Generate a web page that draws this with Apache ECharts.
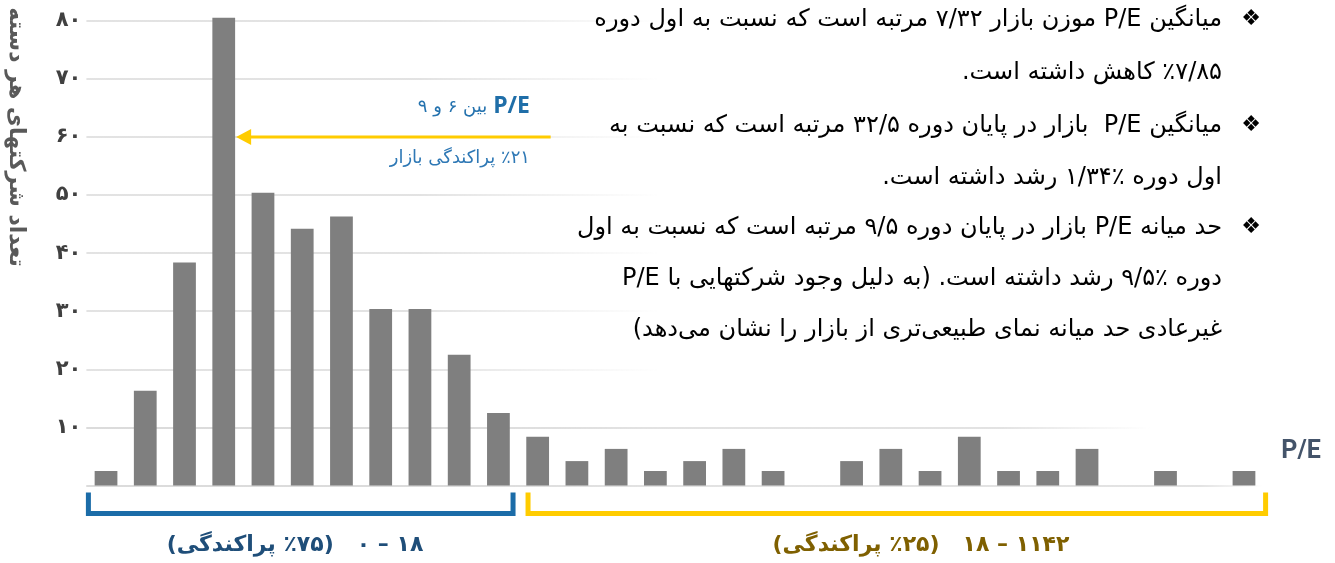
<!DOCTYPE html>
<html lang="fa">
<head>
<meta charset="utf-8">
<script src="https://cdn.jsdelivr.net/npm/echarts@6/dist/echarts.min.js"></script>
<style>
html,body{margin:0;padding:0;background:#ffffff;}
#chart{width:1335px;height:563px;direction:rtl;}
</style>
</head>
<body>
<div id="chart" dir="rtl"></div>
<script>
// ---- data ----
const categories = ['b01','b02','b03','b04','b05','b06','b07','b08','b09','b10',
                    'b11','b12','b13','b14','b15','b16','b17','b18','b19','b20',
                    'b21','b22','b23','b24','b25','b26','b27','b28','b29','b30'];
const companyCounts = [2.5, 16.3, 38.4, 80.5, 50.4, 44.2, 46.3, 30.4, 30.4, 22.5,
                       12.5, 8.4, 4.2, 6.3, 2.5, 4.2, 6.3, 2.5, 0, 4.2,
                       6.3, 2.5, 8.4, 2.5, 2.5, 6.3, 0, 2.5, 0, 2.5];
const yTickValues = [10, 20, 30, 40, 50, 60, 70, 80];
const yTickLabels = ['۱۰','۲۰','۳۰','۴۰','۵۰','۶۰','۷۰','۸۰'];
const yAxisTitle = 'تعداد شرکتهای هر دسته';
const xAxisTitle = 'P/E';
const noteTop = 'بین ۶ و ۹';
const noteTopBold = 'P/E';
const noteBottom = '٪۲۱ پراکندگی بازار';
const groupLowLabel = '۱۸ – ۰   (٪۷۵ پراکندگی)';
const groupHighLabel = '۱۱۴۲ – ۱۸   (٪۲۵ پراکندگی)';
const textLines = [
  'میانگین P/E موزن بازار ۷/۳۲ مرتبه است که نسبت به اول دوره',
  '٪۷/۸۵ کاهش داشته است.',
  'میانگین P/E  بازار در پایان دوره ۳۲/۵ مرتبه است که نسبت به',
  'اول دوره ٪۱/۳۴ رشد داشته است.',
  'حد میانه P/E بازار در پایان دوره ۹/۵ مرتبه است که نسبت به اول',
  'دوره ٪۹/۵ رشد داشته است. (به دلیل وجود شرکتهایی با P/E',
  'غیرعادی حد میانه نمای طبیعی‌تری از بازار را نشان می‌دهد)'
];
const bulletLineIndex = [0, 2, 4];

// ---- chart ----
const chart = echarts.init(document.getElementById('chart'), null, {renderer: 'canvas'});
const grey = '217,217,217';
function clamp(v) { return Math.max(0, Math.min(1, v)); }
function fade(xSolid, xEnd) {
  return {
    type: 'linear', global: true, x: 86, y: 0, x2: 1264, y2: 0,
    colorStops: [
      {offset: 0, color: 'rgba(' + grey + ',1)'},
      {offset: clamp((xSolid - 86) / 1178), color: 'rgba(' + grey + ',1)'},
      {offset: clamp((xEnd - 86) / 1178), color: 'rgba(' + grey + ',0)'},
      {offset: 1, color: 'rgba(' + grey + ',0)'}
    ]
  };
}
const barGap = 0.42;
const option = {
  animation: false,
  grid: {left: 86.4, right: 71.4, top: 20.7, bottom: 77.5},
  xAxis: {
    type: 'category', data: categories,
    axisLine: {show: false}, axisTick: {show: false}, axisLabel: {show: false}, splitLine: {show: false}
  },
  yAxis: {
    type: 'value', min: 0, max: 80, interval: 10,
    axisLine: {show: false}, axisTick: {show: false},
    axisLabel: {
      margin: 5, color: '#404040', fontFamily: 'DejaVu Sans', fontWeight: 'bold', fontSize: 21,
      formatter: function (v) { const i = yTickValues.indexOf(v); return i >= 0 ? yTickLabels[i] : ''; }
    },
    splitLine: {show: true, lineStyle: {width: 1.5, color: fade(420, 660)}}
  },
  series: [{
    type: 'bar', data: companyCounts, barCategoryGap: (barGap * 100) + '%', clip: false,
    itemStyle: {color: '#7f7f7f'},
    markLine: {
      silent: true, symbol: ['none', 'none'], z: 1, label: {show: false},
      lineStyle: {type: 'solid', width: 1.5},
      data: [
        {yAxis: 10, lineStyle: {type: 'solid', width: 1.5, color: fade(1000, 1150)}},
        {yAxis: 0, lineStyle: {type: 'solid', width: 1.5, color: fade(1200, 1264)}}
      ]
    }
  }]
};
chart.setOption(option);

// ---- annotations positioned from the chart's own scales ----
const p0 = chart.convertToPixel({gridIndex: 0}, [0, 0]);
const p29 = chart.convertToPixel({gridIndex: 0}, [29, 0]);
const catW = (p29[0] - p0[0]) / 29;
const barW = catW * (1 - barGap);
const peak = chart.convertToPixel({gridIndex: 0}, [3, 60]);
const arrowEnd = chart.convertToPixel({gridIndex: 0}, [11, 60]);
const tipX = peak[0] + barW / 2 + 1;
const ay = peak[1];
const bracketY = p0[1] + 28;
const bracketTop = p0[1] + 7;
const lowL = p0[0] - catW / 2 + 2;
const lowR = chart.convertToPixel({gridIndex: 0}, [10, 0])[0] + catW / 2 - 5;
const highL = chart.convertToPixel({gridIndex: 0}, [11, 0])[0] - catW / 2 + 10;
const highR = p29[0] + catW / 2 + 2;

const bodyFont = '24px "DejaVu Sans"';
const lineYs = [20, 73, 126, 178, 228, 279, 330];
const graphics = [
  {type: 'line', silent: true, shape: {x1: tipX + 12, y1: ay, x2: arrowEnd[0] + 13, y2: ay},
   style: {stroke: '#FFCC00', lineWidth: 3}},
  {type: 'polygon', silent: true, shape: {points: [[tipX, ay], [tipX + 15, ay - 8], [tipX + 15, ay + 8]]},
   style: {fill: '#FFCC00'}},
  {type: 'text', silent: true, x: 530, y: ay - 30,
   style: {text: noteTop + '{b|' + noteTopBold + '}', align: 'right', verticalAlign: 'middle',
           fill: '#2472ae', font: '18px "DejaVu Sans"',
           rich: {b: {fontFamily: 'Open Sans', fontWeight: 'bold', fontSize: 23, fill: '#1f6ea8', padding: [0, 0, 0, 6]}}}},
  {type: 'text', silent: true, x: 530, y: ay + 21,
   style: {text: noteBottom, align: 'right', verticalAlign: 'middle', fill: '#2e78b5', font: '18px "DejaVu Sans"'}},
  {type: 'text', silent: true, x: 16, y: 137, rotation: -Math.PI / 2,
   style: {text: yAxisTitle, align: 'center', verticalAlign: 'middle', fill: '#595959', font: 'bold 22px "DejaVu Sans"'}},
  {type: 'text', silent: true, x: 1301, y: 452,
   style: {text: xAxisTitle, align: 'center', verticalAlign: 'middle', fill: '#44546a', font: 'bold 25px Roboto'}},
  {type: 'polyline', silent: true,
   shape: {points: [[lowL, bracketTop], [lowL, bracketY], [lowR, bracketY], [lowR, bracketTop]]},
   style: {stroke: '#1b6ca8', lineWidth: 5, fill: null}},
  {type: 'polyline', silent: true,
   shape: {points: [[highL, bracketTop], [highL, bracketY], [highR, bracketY], [highR, bracketTop]]},
   style: {stroke: '#FFCC00', lineWidth: 5, fill: null}},
  {type: 'text', silent: true, x: 295, y: 545,
   style: {text: groupLowLabel, align: 'center', verticalAlign: 'middle', fill: '#1f4e79', font: 'bold 22px "DejaVu Sans"'}},
  {type: 'text', silent: true, x: 921, y: 545,
   style: {text: groupHighLabel, align: 'center', verticalAlign: 'middle', fill: '#7f6000', font: 'bold 22px "DejaVu Sans"'}}
];
textLines.forEach(function (t, i) {
  graphics.push({type: 'text', silent: true, x: 1222, y: lineYs[i],
    style: {text: t, align: 'right', verticalAlign: 'middle', fill: '#000000', font: bodyFont}});
});
bulletLineIndex.forEach(function (i) {
  graphics.push({type: 'text', silent: true, x: 1251, y: lineYs[i] - 1,
    style: {text: '❖', align: 'center', verticalAlign: 'middle', fill: '#000000', font: '22px "DejaVu Sans"'}});
});
chart.setOption({graphic: graphics});
</script>
</body>
</html>
